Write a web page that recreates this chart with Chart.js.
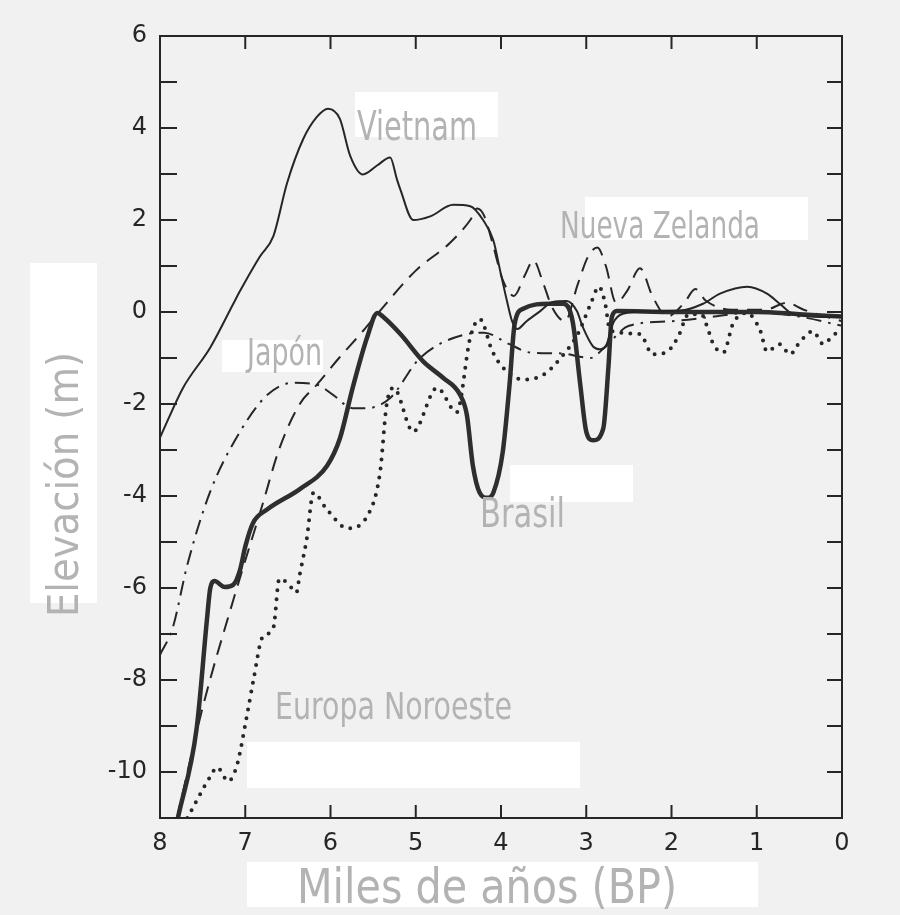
<!DOCTYPE html>
<html>
<head>
<meta charset="utf-8">
<script src="https://cdn.jsdelivr.net/npm/chart.js@4.4.0/dist/chart.umd.min.js"></script>
<style>
  html, body { margin: 0; padding: 0; background: #f1f1f1; }
  #chart { display: block; }
</style>
</head>
<body>
<canvas id="chart" width="900" height="915"></canvas>
<script>
// values (x = thousands of years BP, y = elevation m)
const vietnamX = [8, 7.73, 7.41, 7.14, 7.06, 6.83, 6.67, 6.51, 6.32, 6.16, 6.03, 5.89, 5.77, 5.62, 5.45, 5.3, 5.22, 5.18, 5.03, 4.83, 4.56, 4.36, 4.21, 4.09, 4.01, 3.93, 3.87, 3.81, 3.7, 3.54, 3.39, 3.23, 3.11, 3.04, 2.92, 2.84, 2.76, 2.69, 2.57, 2.2, 1.9, 1.63, 1.43, 1.11, 0.88, 0.73, 0.58, 0.18, 0];
const vietnamY = [-2.73, -1.65, -0.77, 0.18, 0.46, 1.2, 1.65, 2.8, 3.76, 4.24, 4.42, 4.2, 3.4, 2.99, 3.19, 3.36, 2.88, 2.66, 2.0, 2.08, 2.33, 2.3, 2.0, 1.56, 0.9, 0.24, -0.2, -0.37, -0.2, 0.02, 0.22, 0.24, 0.02, -0.33, -0.75, -0.81, -0.7, -0.26, -0.04, 0.02, 0.03, 0.18, 0.4, 0.55, 0.4, 0.18, -0.04, -0.11, -0.1];

const brasilX = [7.79, 7.57, 7.45, 7.41, 7.36, 7.24, 7.14, 7.06, 7.0, 6.91, 6.74, 6.36, 6.04, 5.89, 5.74, 5.57, 5.45, 5.38, 5.18, 4.91, 4.68, 4.48, 4.4, 4.33, 4.25, 4.16, 4.09, 3.98, 3.9, 3.84, 3.74, 3.43, 3.27, 3.16, 3.07, 3.0, 2.92, 2.8, 2.74, 2.7, 2.64, 2.0, 1.0, 0.5, 0];
const brasilY = [-11, -9.05, -6.7, -6.0, -5.85, -5.98, -5.93, -5.6, -5.1, -4.59, -4.29, -3.85, -3.34, -2.75, -1.65, -0.55, -0.02, -0.11, -0.48, -1.08, -1.43, -1.8, -2.24, -3.34, -3.93, -4.04, -3.93, -3.05, -1.58, -0.26, 0.07, 0.18, 0.18, -0.2, -1.58, -2.6, -2.79, -2.53, -1.2, -0.11, 0.02, 0.0, 0.0, -0.05, -0.1];

const zelandaX = [7.8, 7.5, 7.14, 6.8, 6.6, 6.36, 6.16, 5.9, 5.65, 5.45, 5.0, 4.6, 4.36, 4.28, 4.2, 4.1, 3.98, 3.85, 3.72, 3.62, 3.5, 3.4, 3.25, 3.1, 2.98, 2.87, 2.77, 2.65, 2.52, 2.37, 2.22, 2.05, 1.85, 1.72, 1.6, 1.3, 0.9, 0.65, 0.45, 0];
const zelandaY = [-11, -8.6, -6.26, -4.2, -2.97, -2.0, -1.58, -1.0, -0.48, -0.04, 0.9, 1.5, 2.0, 2.25, 2.1, 1.5, 0.7, 0.35, 0.8, 1.12, 0.6, 0.1, -0.2, 0.6, 1.2, 1.4, 1.0, 0.2, 0.46, 0.95, 0.33, -0.1, 0.2, 0.5, 0.25, 0.05, 0.05, 0.2, 0.05, -0.2];

const japonX = [8, 7.85, 7.68, 7.41, 7.06, 6.74, 6.44, 6.16, 5.97, 5.74, 5.57, 5.3, 4.95, 4.4, 4.2, 3.9, 3.66, 3.3, 2.95, 2.8, 2.5, 2.0, 1.5, 1.0, 0.5, 0];
const japonY = [-7.45, -6.86, -5.5, -3.9, -2.6, -1.8, -1.54, -1.58, -1.8, -2.09, -2.09, -1.87, -1.0, -0.48, -0.45, -0.7, -0.88, -0.9, -1.0, -0.8, -0.3, -0.2, -0.1, 0.0, -0.1, -0.3];

const europaX = [7.68, 7.41, 7.33, 7.2, 7.1, 6.98, 6.9, 6.8, 6.67, 6.6, 6.5, 6.4, 6.36, 6.28, 6.2, 6.04, 5.8, 5.57, 5.42, 5.34, 5.26, 5.03, 4.75, 4.52, 4.36, 4.25, 4.1, 3.98, 3.74, 3.5, 3.3, 3.1, 2.95, 2.85, 2.78, 2.72, 2.37, 2.22, 2.05, 1.92, 1.8, 1.65, 1.58, 1.51, 1.39, 1.28, 1.12, 0.96, 0.88, 0.73, 0.61, 0.49, 0.34, 0.22, 0.1, 0];
const europaY = [-11, -10.1, -9.9, -10.2, -9.87, -8.77, -7.96, -7.08, -6.86, -5.8, -5.9, -6.1, -5.7, -4.95, -3.93, -4.3, -4.7, -4.44, -3.5, -2.0, -1.65, -2.6, -1.65, -2.18, -0.55, -0.15, -0.86, -1.2, -1.47, -1.36, -1.0, -0.48, 0.17, 0.55, 0.2, -0.4, -0.48, -0.92, -0.86, -0.53, -0.05, -0.05, -0.33, -0.7, -0.88, -0.26, -0.02, -0.4, -0.86, -0.7, -0.92, -0.64, -0.42, -0.7, -0.5, -0.4];

const xTickValues = [8, 7, 6, 5, 4, 3, 2, 1, 0];
const yLabelValues = [6, 4, 2, 0, -2, -4, -6, -8, -10];

const ink = '#262626';
const labelGrey = '#b3b3b3';

function pts(xs, ys) {
    return xs.map((x, i) => ({ x: x, y: ys[i] }));
}

// white paste-over boxes of the scanned figure
const whiteBoxes = [
    [355, 92, 143, 45],
    [585, 197, 223, 43],
    [222, 340, 101, 32],
    [510, 465, 123, 37],
    [247, 742, 333, 46],
    [247, 862, 511, 45],
    [30, 263, 67, 340]
];

// grey text labels: text, left x, baseline, width, font size
const textLabels = [
    ['Vietnam', 357, 140, 120, 40],
    ['Nueva Zelanda', 560, 238, 200, 38],
    ['Japón', 247, 365, 75, 37],
    ['Brasil', 480, 527, 85, 40],
    ['Europa Noroeste', 275, 719, 237, 38],
    ['Miles de años (BP)', 297, 903, 380, 48]
];

function fitText(ctx, text, x, y, width, size) {
    ctx.font = size + 'px "Liberation Sans Narrow", "DejaVu Sans Condensed", "Liberation Sans", sans-serif';
    const w = ctx.measureText(text).width;
    ctx.save();
    ctx.translate(x, y);
    ctx.scale(width / w, 1);
    ctx.fillText(text, 0, 0);
    ctx.restore();
}

const paperPlugin = {
    id: 'paper',
    beforeDraw(chart) {
        const ctx = chart.ctx;
        ctx.save();
        ctx.fillStyle = '#f1f1f1';
        ctx.fillRect(0, 0, chart.width, chart.height);
        ctx.fillStyle = '#ffffff';
        whiteBoxes.forEach(b => ctx.fillRect(b[0], b[1], b[2], b[3]));
        ctx.restore();
    },
    afterDraw(chart) {
        const ctx = chart.ctx;
        const area = chart.chartArea;
        const xs = chart.scales.x;
        const ys = chart.scales.y;
        ctx.save();
        // frame
        ctx.strokeStyle = ink;
        ctx.lineWidth = 2;
        ctx.strokeRect(area.left, area.top, area.right - area.left, area.bottom - area.top);
        // inward ticks
        ctx.beginPath();
        for (let v = 1; v <= 7; v++) {
            const px = xs.getPixelForValue(v);
            ctx.moveTo(px, area.bottom);
            ctx.lineTo(px, area.bottom - 13);
            ctx.moveTo(px, area.top);
            ctx.lineTo(px, area.top + 13);
        }
        for (let v = -10; v <= 5; v++) {
            const py = ys.getPixelForValue(v);
            ctx.moveTo(area.left, py);
            ctx.lineTo(area.left + 17, py);
            ctx.moveTo(area.right, py);
            ctx.lineTo(area.right - 15, py);
        }
        ctx.stroke();
        // grey labels
        ctx.fillStyle = labelGrey;
        ctx.textBaseline = 'alphabetic';
        ctx.textAlign = 'left';
        textLabels.forEach(t => fitText(ctx, t[0], t[1], t[2], t[3], t[4]));
        // vertical axis title
        ctx.save();
        ctx.translate(78, 617);
        ctx.rotate(-Math.PI / 2);
        fitText(ctx, 'Elevación (m)', 0, 0, 265, 42);
        ctx.restore();
        ctx.restore();
    }
};

const lineBase = {
    pointRadius: 0,
    pointHoverRadius: 0,
    fill: false,
    cubicInterpolationMode: 'monotone',
    borderColor: ink,
    borderJoinStyle: 'round'
};

new Chart(document.getElementById('chart').getContext('2d'), {
    type: 'line',
    data: {
        datasets: [
            Object.assign({}, lineBase, {
                label: 'Vietnam',
                data: pts(vietnamX, vietnamY),
                borderWidth: 2
            }),
            Object.assign({}, lineBase, {
                label: 'Brasil',
                data: pts(brasilX, brasilY),
                borderWidth: 4.5,
                borderColor: '#2e2e2e'
            }),
            Object.assign({}, lineBase, {
                label: 'Nueva Zelanda',
                data: pts(zelandaX, zelandaY),
                borderWidth: 2,
                borderDash: [15, 9]
            }),
            Object.assign({}, lineBase, {
                label: 'Japón',
                data: pts(japonX, japonY),
                borderWidth: 2,
                borderDash: [15, 7, 2.5, 7]
            }),
            Object.assign({}, lineBase, {
                label: 'Europa Noroeste',
                data: pts(europaX, europaY),
                borderWidth: 4,
                borderDash: [0, 9],
                borderCapStyle: 'round'
            })
        ]
    },
    options: {
        responsive: false,
        animation: false,
        events: [],
        layout: { padding: { top: 36, right: 58, left: 0, bottom: 0 } },
        plugins: {
            legend: { display: false },
            tooltip: { enabled: false }
        },
        scales: {
            x: {
                type: 'linear',
                reverse: true,
                min: 0,
                max: 8,
                afterFit: s => { s.height = 97; },
                afterBuildTicks: s => { s.ticks = xTickValues.map(v => ({ value: v })); },
                grid: { display: false, drawTicks: false },
                border: { display: false },
                ticks: {
                    color: ink,
                    padding: 11,
                    maxRotation: 0,
                    autoSkip: false,
                    font: { family: '"DejaVu Sans", sans-serif', size: 24 },
                    callback: v => String(v)
                }
            },
            y: {
                type: 'linear',
                min: -11,
                max: 6,
                afterFit: s => { s.width = 160; },
                afterBuildTicks: s => { s.ticks = yLabelValues.map(v => ({ value: v })); },
                grid: { display: false, drawTicks: false },
                border: { display: false },
                ticks: {
                    color: ink,
                    padding: 13,
                    autoSkip: false,
                    font: { family: '"DejaVu Sans", sans-serif', size: 24 },
                    callback: v => String(v)
                }
            }
        }
    },
    plugins: [paperPlugin]
});
</script>
</body>
</html>
